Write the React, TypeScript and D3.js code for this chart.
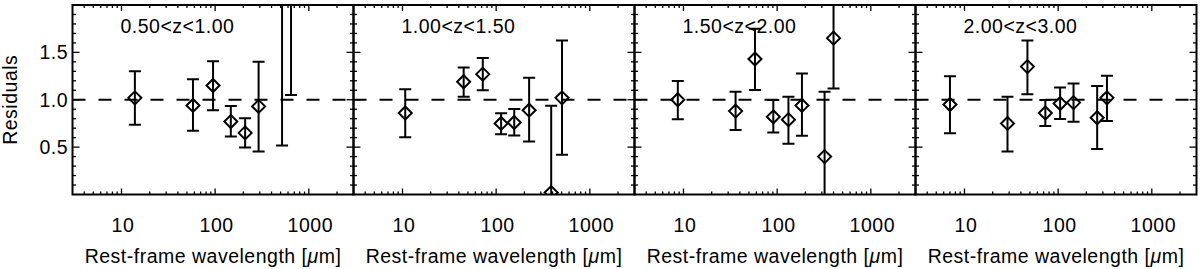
import React, { useRef, useEffect } from "react";
import * as d3 from "d3";

// redshift bins
const binLabels = ["0.50<z<1.00", "1.00<z<1.50", "1.50<z<2.00", "2.00<z<3.00"];

// rest-frame wavelength [um] per bin
const wave1 = [13.9, 58, 95, 147, 209, 291, 518, 646];
const wave2 = [10.7, 45, 72, 113, 156, 225, 387, 505];
const wave3 = [8.7, 36, 58, 91, 132, 184, 321, 400];
const wave4 = [7.0, 28.8, 47, 73, 105, 146, 261, 332];

// residuals
const res1 = [1.02, 0.94, 1.15, 0.77, 0.65, 0.93, 2.6, 2.4];
const res2 = [0.86, 1.19, 1.27, 0.75, 0.76, 0.89, 0.02, 1.02];
const res3 = [1.0, 0.88, 1.43, 0.82, 0.79, 0.94, 0.4, 1.65];
const res4 = [0.95, 0.75, 1.35, 0.86, 0.96, 0.97, 0.81, 1.02];

// error bar lower / upper ends
const lo1 = [0.735, 0.672, 0.889, 0.612, 0.497, 0.455, 0.517, 1.049];
const hi1 = [1.3, 1.217, 1.406, 0.934, 0.805, 1.4, 4.0, 4.0];
const lo2 = [0.605, 1.031, 1.1, 0.637, 0.622, 0.559, -0.5, 0.42];
const hi2 = [1.112, 1.34, 1.441, 0.857, 0.902, 1.231, 0.937, 1.626];
const lo3 = [0.794, 0.682, 1.102, 0.654, 0.535, 0.619, -0.3, 1.12];
const hi3 = [1.199, 1.084, 1.749, 0.997, 1.031, 1.277, 1.084, 2.4];
const lo4 = [0.647, 0.454, 1.057, 0.724, 0.797, 0.769, 0.48, 0.776];
const hi4 = [1.249, 1.031, 1.626, 0.997, 1.13, 1.172, 1.144, 1.252];

const xTickValues = [10, 100, 1000];
const yTickValues = [0.5, 1.0, 1.5];

const panels = [
  { wave: wave1, res: res1, lo: lo1, hi: hi1 },
  { wave: wave2, res: res2, lo: lo2, hi: hi2 },
  { wave: wave3, res: res3, lo: lo3, hi: hi3 },
  { wave: wave4, res: res4, lo: lo4, hi: hi4 },
];

export default function App() {
  const ref = useRef<SVGSVGElement>(null);

  useEffect(() => {
    if (!ref.current) return;
    const svg = d3.select(ref.current);
    svg.selectAll("*").remove();

    const font = "'Liberation Sans', Helvetica, Arial, sans-serif";
    const fs = 19.5;
    const ls = "0.5px";
    const left0 = 72.5;
    const pw = 281;
    const top = 5;
    const bottom = 194.5;

    const y = d3.scaleLinear().domain([0, 2]).range([bottom, top]);

    // minor ticks
    const xMinor: number[] = [];
    [1, 10, 100, 1000].forEach((dec) => {
      for (let k = 2; k <= 9; k++) {
        const v = k * dec;
        if (v > 3 && v < 3000) xMinor.push(v);
      }
    });
    const yMinor = d3
      .range(1, 20)
      .map((i) => i / 10)
      .filter((v) => !yTickValues.some((t) => Math.abs(t - v) < 1e-6));

    panels.forEach((p, i) => {
      const x0 = left0 + i * pw;
      const x = d3.scaleLog().domain([3, 3000]).range([x0, x0 + pw]);
      const g = svg.append("g");

      const clipId = `clip-${i}`;
      svg
        .append("clipPath")
        .attr("id", clipId)
        .append("rect")
        .attr("x", x0)
        .attr("y", top)
        .attr("width", pw)
        .attr("height", bottom - top);

      // reference line at 1
      g.append("line")
        .attr("x1", x0)
        .attr("x2", x0 + pw)
        .attr("y1", y(1))
        .attr("y2", y(1))
        .attr("stroke", "#000")
        .attr("stroke-width", 1.8)
        .attr("stroke-dasharray", "13,13");

      // ticks (bottom/top, left/right)
      const tk = g.append("g").attr("stroke", "#000").attr("stroke-width", 1.3);
      const xt = (v: number, len: number) => {
        tk.append("line").attr("x1", x(v)).attr("x2", x(v)).attr("y1", bottom).attr("y2", bottom - len);
        tk.append("line").attr("x1", x(v)).attr("x2", x(v)).attr("y1", top).attr("y2", top + len);
      };
      xTickValues.forEach((v) => xt(v, 6));
      xMinor.forEach((v) => xt(v, 3));
      const yt = (v: number, len: number) => {
        tk.append("line").attr("x1", x0).attr("x2", x0 + len).attr("y1", y(v)).attr("y2", y(v));
        tk.append("line").attr("x1", x0 + pw).attr("x2", x0 + pw - len).attr("y1", y(v)).attr("y2", y(v));
      };
      yTickValues.forEach((v) => yt(v, 7));
      yMinor.forEach((v) => yt(v, 3.5));

      // data
      const dg = g
        .append("g")
        .attr("clip-path", `url(#${clipId})`)
        .attr("stroke", "#000")
        .attr("stroke-width", 2)
        .attr("fill", "none");
      const pts = p.wave.map((w, j) => ({ w, r: p.res[j], lo: p.lo[j], hi: p.hi[j] }));
      const cap = 6;
      pts.forEach((d) => {
        const cx = x(d.w);
        dg.append("line").attr("x1", cx).attr("x2", cx).attr("y1", y(d.lo)).attr("y2", y(d.hi));
        dg.append("line").attr("x1", cx - cap).attr("x2", cx + cap).attr("y1", y(d.lo)).attr("y2", y(d.lo));
        dg.append("line").attr("x1", cx - cap).attr("x2", cx + cap).attr("y1", y(d.hi)).attr("y2", y(d.hi));
      });
      const s = 6.5;
      dg.selectAll("path.dia")
        .data(pts)
        .enter()
        .append("path")
        .attr("class", "dia")
        .attr("fill", "none")
        .attr("d", (d) => {
          const cx = x(d.w);
          const cy = y(d.r);
          return `M${cx},${cy - s}L${cx + s},${cy}L${cx},${cy + s}L${cx - s},${cy}Z`;
        });

      // frame
      g.append("rect")
        .attr("x", x0)
        .attr("y", top)
        .attr("width", pw)
        .attr("height", bottom - top)
        .attr("fill", "none")
        .attr("stroke", "#000")
        .attr("stroke-width", 2);

      // x tick labels
      g.selectAll("text.xl")
        .data(xTickValues)
        .enter()
        .append("text")
        .attr("x", (d) => x(d) + 1.5)
        .attr("y", 231.5)
        .attr("text-anchor", "middle")
        .attr("font-family", font)
        .attr("font-size", fs)
        .attr("letter-spacing", ls)
        .text((d) => String(d));

      // x label
      const xl = g
        .append("text")
        .attr("x", x0 + pw / 2)
        .attr("y", 263)
        .attr("text-anchor", "middle")
        .attr("font-family", font)
        .attr("font-size", fs)
        .attr("letter-spacing", ls);
      xl.append("tspan").text("Rest-frame wavelength [");
      xl.append("tspan").attr("font-style", "italic").text("\u03bc");
      xl.append("tspan").text("m]");

      // bin title
      g.append("text")
        .attr("x", x0 + 48)
        .attr("y", 33)
        .attr("font-family", font)
        .attr("font-size", fs)
        .attr("letter-spacing", ls)
        .text(binLabels[i]);

      // y tick labels on first panel
      if (i === 0) {
        g.selectAll("text.yl")
          .data(yTickValues)
          .enter()
          .append("text")
          .attr("x", x0 - 4.5)
          .attr("y", (d) => y(d))
          .attr("dy", "0.35em")
          .attr("text-anchor", "end")
          .attr("font-family", font)
          .attr("font-size", fs)
          .attr("letter-spacing", ls)
          .text((d) => d.toFixed(1));
        g.append("text")
          .attr("transform", `translate(16.5,${y(1)}) rotate(-90)`)
          .attr("text-anchor", "middle")
          .attr("font-family", font)
          .attr("font-size", fs)
          .attr("letter-spacing", ls)
          .text("Residuals");
      }
    });
  }, []);

  return (
    <svg
      ref={ref}
      width={1200}
      height={269}
      style={{ position: "absolute", left: 0, top: 0, background: "#fff" }}
    />
  );
}
